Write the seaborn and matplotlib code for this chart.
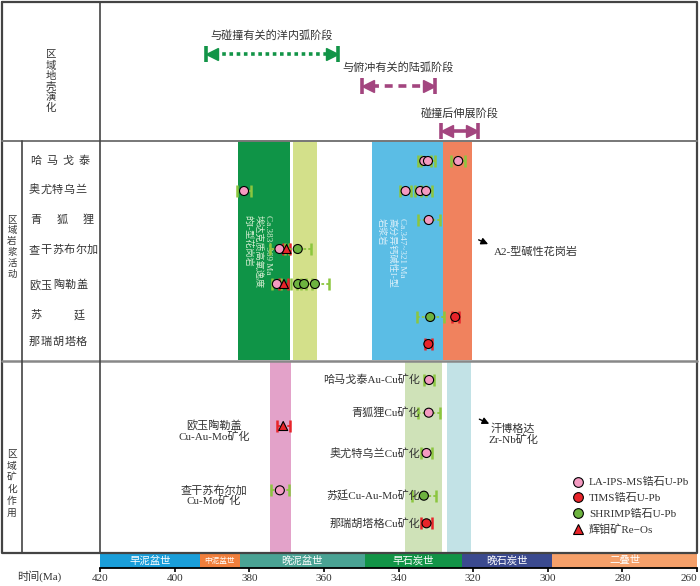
import matplotlib
matplotlib.use('Agg')
import matplotlib.pyplot as plt
from matplotlib.lines import Line2D
import numpy as np
import pandas as pd
import seaborn as sns

# ---- data ----
# magmatic rocks: one row per dated sample
magma_sites = ['哈马戈泰', '奥尤特乌兰', '青狐狸', '查干苏布尔加', '欧玉陶勒盖', '苏廷', '那瑞胡塔格']
mag_site = ['哈马戈泰', '哈马戈泰', '哈马戈泰',
            '奥尤特乌兰', '奥尤特乌兰', '奥尤特乌兰', '奥尤特乌兰',
            '青狐狸',
            '查干苏布尔加', '查干苏布尔加', '查干苏布尔加',
            '欧玉陶勒盖', '欧玉陶勒盖', '欧玉陶勒盖', '欧玉陶勒盖', '欧玉陶勒盖',
            '苏廷', '苏廷',
            '那瑞胡塔格']
mag_age = [333.1, 332.1, 324.0,
           381.4, 338.1, 334.2, 332.6,
           331.9,
           371.9, 370.0, 367.0,
           372.6, 370.7, 366.9, 365.3, 362.4,
           331.5, 324.8,
           332.0]
mag_err = [1.8, 1.8, 1.8,
           1.8, 1.5, 1.5, 1.5,
           2.9,
           2.5, 1.0, 3.5,
           1.2, 1.2, 2.0, 2.0, 3.8,
           3.6, 0.9,
           0.9]
mag_method = ['LA', 'LA', 'LA',
              'LA', 'LA', 'LA', 'LA',
              'LA',
              'LA', 'ReOs', 'SHRIMP',
              'LA', 'ReOs', 'SHRIMP', 'SHRIMP', 'SHRIMP',
              'SHRIMP', 'TIMS',
              'TIMS']

# mineralization ages
ore_label = ['哈马戈泰Au-Cu矿化', '青狐狸Cu矿化', '欧玉陶勒盖\nCu-Au-Mo矿化', '奥尤特乌兰Cu矿化',
             '查干苏布尔加\nCu-Mo矿化', '苏廷Cu-Au-Mo矿化', '那瑞胡塔格Cu矿化']
ore_age = [331.8, 331.9, 370.9, 332.5, 371.8, 333.2, 332.5]
ore_err = [1.3, 2.9, 1.7, 1.4, 2.5, 3.3, 1.5]
ore_method = ['LA', 'LA', 'ReOs', 'LA', 'LA', 'SHRIMP', 'TIMS']

# age ranges of the shaded magmatic / ore stages
magma_band_start = [382.9, 368.2, 347.0, 328.0]
magma_band_end = [369.0, 361.8, 328.0, 320.2]
ore_band_start = [374.4, 338.2, 326.9]
ore_band_end = [368.9, 328.3, 320.6]
green_band_text = ['Ca.383~369 Ma', '埃达克质高氧逸度', '的I-型花岗岩']
blue_band_text = ['Ca.347~321 Ma', '高分异钙碱性I-型', '岩浆岩']

# tectonic stages
stage_names = ['与碰撞有关的洋内弧阶段', '与俯冲有关的陆弧阶段', '碰撞后伸展阶段']
stage_start = [391.6, 349.9, 328.6]
stage_end = [356.2, 330.2, 318.6]

# geological time scale
period_names = ['早泥盆世', '中泥盆世', '晚泥盆世', '早石炭世', '晚石炭世', '二叠世']
period_start = [420, 393.2, 382.5, 349.0, 323.1, 298.8]
period_end = [393.2, 382.5, 349.0, 323.1, 298.8, 260]
time_ticks = [420, 400, 380, 360, 340, 320, 300, 280, 260]

method_labels = {'LA': 'LA-IPS-MS锆石U-Pb', 'TIMS': 'TIMS锆石U-Pb',
                 'SHRIMP': 'SHRIMP锆石U-Pb', 'ReOs': '辉钼矿Re−Os'}

# ---- layout / style ----
sns.set_theme(style='white')
plt.rcParams['font.family'] = ['Liberation Serif', 'Noto Sans CJK SC']
TXT = '#333333'

method_color = {'LA': '#f49ac1', 'TIMS': '#e8242a', 'SHRIMP': '#6db33f', 'ReOs': '#e8242a'}
method_marker = {'LA': 'o', 'TIMS': 'o', 'SHRIMP': 'o', 'ReOs': '^'}
err_color = {'LA': '#8cc63f', 'SHRIMP': '#8cc63f', 'TIMS': '#e8242a', 'ReOs': '#e8242a'}
magma_band_colors = ['#0f9447', '#d3e08a', '#5bbde5', '#f0825e']
ore_band_colors = ['#e3a2c9', '#cfe2b8', '#c2e2e6']
period_colors = ['#1a9ed9', '#f07f3c', '#4aa394', '#129447', '#3b4a8f', '#f5a06a']
stage_colors = ['#129447', '#a3457f', '#a3457f']
stage_ls = [(0, (1, 1)), (0, (2.2, 1.6)), '-']
stage_y = [54, 86, 131]
stage_label_y = [35, 67, 113]

magma_row_y = dict(zip(magma_sites, [161, 191, 220, 249, 284, 317, 344]))
ore_row_y = [380, 412.7, 426, 453, 490.3, 495.7, 523.3]

fig = plt.figure(figsize=(7, 5.86), dpi=100)

# background axes in pixel coordinates (table frame and row headers)
bg = fig.add_axes([0, 0, 1, 1], zorder=0)
bg.set_xlim(0, 700)
bg.set_ylim(586, 0)
bg.axis('off')

ax = fig.add_axes([100 / 700, 18 / 586, 597 / 700, 566 / 586], zorder=1)
ax.set_facecolor('none')
ax.set_xlim(420, 260)
ax.set_ylim(568, 2)

frame = fig.add_axes([0, 0, 1, 1], zorder=2)
frame.set_xlim(0, 700)
frame.set_ylim(586, 0)
frame.axis('off')
frame.set_facecolor('none')

# table lines
lc = '#444444'
frame.plot([2, 697, 697, 2, 2], [2, 2, 553, 553, 2], color=lc, lw=1.6)
frame.plot([2, 697], [141, 141], color='#777777', lw=1.4)
frame.plot([2, 697], [361, 361], color='#888888', lw=1.8)
frame.plot([100, 100], [2, 553], color=lc, lw=1.2)
frame.plot([22, 22], [141, 553], color=lc, lw=1.2)


def stack(x, y0, y1, s, size=8):
    ys = np.linspace(y0, y1, len(s))
    for ch, yy in zip(s, ys):
        bg.text(x, yy, ch, ha='center', va='center', fontsize=size, color=TXT)


def spread(x0, x1, y, s, size=8):
    xs = np.linspace(x0, x1, len(s))
    for ch, xx in zip(s, xs):
        bg.text(xx, y, ch, ha='center', va='center', fontsize=size, color=TXT)


stack(51, 55, 108, '区域地壳演化', size=7.5)
stack(12, 220, 274, '区域岩浆活动', size=6.8)
stack(12, 455, 513, '区域矿化作用', size=7)

name_span = [(35.5, 84.5), (34.5, 80.5), (35.5, 88.5), (34.5, 92.5), (34.5, 82.5), (35.5, 79.5), (34.5, 81.5)]
name_y = [160.7, 190, 220, 250, 285, 315, 341.7]
for name, (x0, x1), yy in zip(magma_sites, name_span, name_y):
    spread(x0, x1, yy, name)

# ---- shaded bands ----
for a, b, c in zip(magma_band_start, magma_band_end, magma_band_colors):
    ax.fill_betweenx([141, 360], a, b, color=c, lw=0, zorder=1)
for a, b, c in zip(ore_band_start, ore_band_end, ore_band_colors):
    ax.fill_betweenx([362, 553], a, b, color=c, lw=0, zorder=1)

# rotated captions inside the green and blue bands, one column per line
for line, xx in zip(green_band_text, [375.0, 377.65, 380.3]):
    ax.text(xx, 215, line, rotation=270, ha='center', va='top', fontsize=6.6,
            color='#d6eed2', zorder=2)
for line, xx in zip(blue_band_text, [339.1, 341.8, 344.5]):
    ax.text(xx, 218, line, rotation=270, ha='center', va='top', fontsize=6.6,
            color='#dcf0fa', zorder=2)

# ---- stage arrows ----
for name, a, b, c, ls, yy, ly in zip(stage_names, stage_start, stage_end, stage_colors,
                                     stage_ls, stage_y, stage_label_y):
    ax.plot([a - 2.5, b + 2.5], [yy, yy], color=c, lw=2.6, ls=ls, solid_capstyle='butt', zorder=3)
    ax.plot([a, b], [yy, yy], ls='none', marker='|', ms=11, mew=2.6, color=c, zorder=3)
    ax.plot([a - 1.7], [yy], ls='none', marker='<', ms=8.5, color=c, zorder=3)
    ax.plot([b + 1.7], [yy], ls='none', marker='>', ms=8.5, color=c, zorder=3)
    ax.text((a + b) / 2, ly, name, ha='center', va='center', fontsize=8, color=TXT)

# ---- dating points ----
mag = pd.DataFrame({'site': mag_site, 'age': mag_age, 'err': mag_err, 'method': mag_method})
mag['y'] = mag['site'].map(magma_row_y)
ore = pd.DataFrame({'label': ore_label, 'age': ore_age, 'err': ore_err, 'method': ore_method,
                    'y': ore_row_y})
pts = pd.concat([mag[['age', 'err', 'method', 'y']], ore[['age', 'err', 'method', 'y']]])

for _, r in pts.iterrows():
    c = err_color[r['method']]
    ax.hlines(r['y'], r['age'] - r['err'], r['age'] + r['err'], colors=c,
              linestyles=(0, (1.5, 1.2)), lw=1.3, zorder=3)
    ax.plot([r['age'] - r['err'], r['age'] + r['err']], [r['y'], r['y']], ls='none',
            marker='|', ms=8, mew=1.8, color=c, zorder=3)

sns.scatterplot(data=pts, x='age', y='y', hue='method', style='method',
                palette=method_color, markers=method_marker, s=42,
                edgecolor='black', linewidth=0.8, legend=False, ax=ax, zorder=5)

# ore labels
for _, r in ore.iterrows():
    if '\n' in r['label']:
        ax.text(389.4, r['y'] + 5, r['label'], ha='center', va='center', fontsize=8,
                color=TXT, linespacing=1.0)
    else:
        ax.text(334.2, r['y'], r['label'], ha='right', va='center', fontsize=8, color=TXT)

# annotations
ax.annotate('', xy=(315.3, 245.3), xytext=(319.2, 238.7),
            arrowprops=dict(arrowstyle='-|>', color='black', lw=1.0, mutation_scale=10))
ax.text(314.4, 251.7, 'A2-型碱性花岗岩', ha='left', va='center', fontsize=8, color=TXT)
ax.annotate('', xy=(315.0, 425), xytext=(319.0, 418),
            arrowprops=dict(arrowstyle='-|>', color='black', lw=1.0, mutation_scale=10))
ax.text(309.3, 434, '汗博格达\nZr-Nb矿化', ha='center', va='center', fontsize=8,
        color=TXT, linespacing=1.0)

# legend
handles = [Line2D([], [], ls='none', marker=method_marker[m], markersize=7,
                  markerfacecolor=method_color[m], markeredgecolor='black', markeredgewidth=0.8)
           for m in ['LA', 'TIMS', 'SHRIMP', 'ReOs']]
ax.legend(handles, [method_labels[m] for m in ['LA', 'TIMS', 'SHRIMP', 'ReOs']],
          loc='upper left', bbox_to_anchor=(0.791, 0.16), frameon=False, fontsize=8,
          handlelength=1.0, handletextpad=0.5, labelspacing=0.5, borderpad=0,
          borderaxespad=0, labelcolor=TXT)

# ---- time scale bar ----
for name, a, b, c in zip(period_names, period_start, period_end, period_colors):
    ax.barh(560.5, a - b, left=b, height=15, color=c, lw=0, zorder=2)
    ax.text((a + b) / 2, 560.5, name, ha='center', va='center', color='white',
            fontsize=5.5 if a - b < 15 else 7.5, zorder=3)

for s in ['top', 'left', 'right']:
    ax.spines[s].set_visible(False)
ax.spines['bottom'].set_color('black')
ax.spines['bottom'].set_linewidth(1.3)
ax.set_yticks([])
ax.set_xticks(time_ticks)
ax.set_xticklabels([str(t) for t in time_ticks], fontsize=8, color=TXT)
ax.tick_params(axis='x', direction='out', length=3, width=1.2, color='black', pad=1, bottom=True)
ax.get_xticklabels()[-1].set_horizontalalignment('right')
ax.set_xlabel('')
ax.set_ylabel('')
bg.text(39, 576, '时间(Ma)', ha='center', va='center', fontsize=8, color=TXT)

fig.savefig('out.png', dpi=100)
